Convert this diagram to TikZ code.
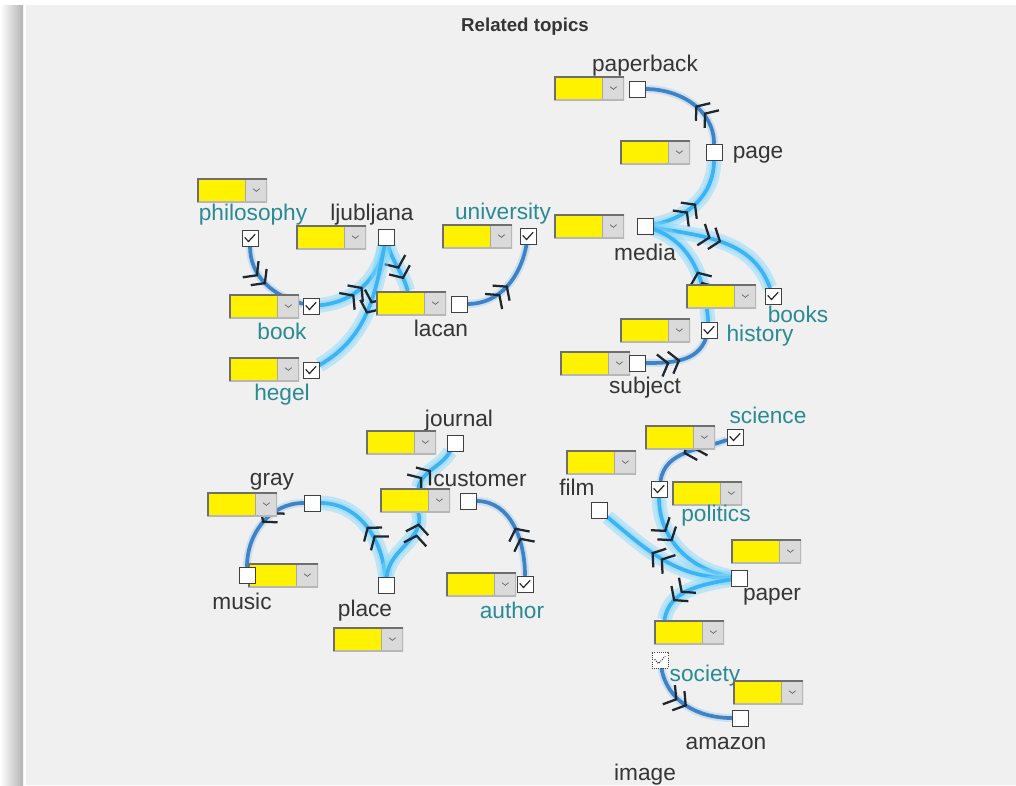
\documentclass[tikz,border=0pt]{standalone}
\usepackage{fontspec}
\setmainfont{Liberation Sans}
\usetikzlibrary{arrows.meta,decorations.markings}
\definecolor{panelgray}{HTML}{F0F0F0}
\definecolor{linkblue}{HTML}{3F83C6}
\definecolor{linkglow}{HTML}{8CC4F0}
\definecolor{hubblue}{HTML}{3AB4F2}
\definecolor{hubglow}{HTML}{7FD9FF}
\definecolor{tealtext}{HTML}{2A8A93}
\definecolor{darktext}{HTML}{353535}
\definecolor{ddborder}{HTML}{6E6E6E}
\definecolor{ddarrow}{HTML}{DADADA}
\definecolor{ink}{HTML}{1E2630}
\pgfdeclarelayer{panel}
\pgfdeclarelayer{wires}
\pgfsetlayers{panel,wires,main}
\newcommand{\relate}[4][link]{\draw[#1] (#2) to[#4] (#3);}
\tikzset{
	topic/.style={font=\fontsize{17}{19}\selectfont, text=darktext, inner sep=0pt, yshift=-2.2pt},
	picked/.style={topic, text=tealtext},
	dropdown/.style={rectangle, minimum width=52.5pt, minimum height=18pt, inner sep=0pt, fill=yellow,
		path picture={
			\fill[ddarrow] ([xshift=-16pt]path picture bounding box.north east) rectangle (path picture bounding box.south east);
			\draw[ddborder!60] ([xshift=-16pt]path picture bounding box.north east) -- ([xshift=-16pt]path picture bounding box.south east);
			\draw[ddborder, line width=.6pt] ([xshift=-10.5pt,yshift=-8pt]path picture bounding box.north east) -- ++(2.5pt,-2pt) -- ++(2.5pt,2pt);
			\draw[ddborder!50, line width=.8pt] (path picture bounding box.south west) -- (path picture bounding box.south east) -- (path picture bounding box.north east);
			\draw[ddborder, line width=2.4pt] (path picture bounding box.south west) -- (path picture bounding box.north west) -- (path picture bounding box.north east);
		}},
	checkbox/.style={rectangle, draw=black!75, fill=white, minimum size=12pt, inner sep=0pt, line width=.6pt},
	checked/.style={checkbox, path picture={\draw[black!85, line width=.9pt] ([shift={(2pt,-5.6pt)}]path picture bounding box.north west) -- ++(2.9pt,-3pt) -- ++(5pt,5.4pt);}},
	link/.style={draw=linkblue, line width=2.8pt, line cap=round,
		preaction={draw=linkglow, line width=6pt, opacity=.35},
		postaction={decorate},
		decoration={markings, mark=at position #1 with {\arrow{Straight Barb[length=6.5pt,width=17pt,line width=1.7pt,color=ink] Straight Barb[length=6.5pt,width=17pt,line width=1.7pt,color=ink]}}}},
	link/.default=0.5,
	hublink/.style={link=#1, draw=hubblue, preaction={draw=hubglow, line width=11pt, opacity=.45}},
	hublink/.default=0.5,
}

\begin{document}
\begin{tikzpicture}[x=0.75pt,y=0.75pt]
	\useasboundingbox (0,0) rectangle (1016,-785);
	\begin{pgfonlayer}{panel}
		\fill[white] (0,0) rectangle (1016,-785);
		\shade[left color=white, right color=gray!60] (0,-5) rectangle (23,-785);
		\fill[panelgray] (26,-5) rectangle (1016,-785);
	\end{pgfonlayer}

	\node[font=\bfseries\fontsize{14}{16}\selectfont, text=darktext] (title) at (525,-27) {Related topics};

	% philosophy group
	\node[dropdown] (philosophy-dd) at (232,-190) {};
	\node[picked] (philosophy) at (253,-212) {philosophy};
	\node[checked] (philosophy-cb) at (250,-238) {};
	\node[topic] (ljubljana) at (372,-212) {ljubljana};
	\node[dropdown] (ljubljana-dd) at (331,-237) {};
	\node[checkbox] (ljubljana-cb) at (386,-237) {};
	\node[picked] (university) at (503,-211) {university};
	\node[dropdown] (university-dd) at (477,-236) {};
	\node[checked] (university-cb) at (528,-236) {};
	\node[dropdown] (book-dd) at (264,-306) {};
	\node[checked] (book-cb) at (311,-306) {};
	\node[picked] (book) at (282,-328) {book};
	\node[dropdown] (lacan-dd) at (411,-303) {};
	\node[checkbox] (lacan-cb) at (459,-304) {};
	\node[topic] (lacan) at (441,-325) {lacan};
	\node[dropdown] (hegel-dd) at (264,-369) {};
	\node[checked] (hegel-cb) at (311,-370) {};
	\node[picked] (hegel) at (282,-392) {hegel};

	% media group
	\node[topic] (paperback) at (645,-63) {paperback};
	\node[dropdown] (paperback-dd) at (589,-88) {};
	\node[checkbox] (paperback-cb) at (637,-89) {};
	\node[dropdown] (page-dd) at (655,-152) {};
	\node[checkbox] (page-cb) at (714,-152) {};
	\node[topic] (page) at (758,-152) {page};
	\node[dropdown] (media-dd) at (589,-226) {};
	\node[checkbox] (media-cb) at (645,-226) {};
	\node[topic] (media) at (645,-249) {media};
	\node[dropdown] (books-dd) at (721,-296) {};
	\node[checked] (books-cb) at (773,-296) {};
	\node[picked] (books) at (798,-311) {books};
	\node[dropdown] (history-dd) at (655,-330) {};
	\node[checked] (history-cb) at (709,-330) {};
	\node[picked] (history) at (760,-333) {history};
	\node[dropdown] (subject-dd) at (595,-363) {};
	\node[checkbox] (subject-cb) at (637,-363) {};
	\node[topic] (subject) at (645,-385) {subject};

	% customer group
	\node[topic] (journal) at (459,-418) {journal};
	\node[dropdown] (journal-dd) at (401,-442) {};
	\node[checkbox] (journal-cb) at (455,-443) {};
	\node[topic] (customer) at (480,-476) {customer};
	\node[dropdown] (customer-dd) at (415,-500) {};
	\node[checkbox] (customer-cb) at (468,-501) {};
	\node[topic] (gray) at (272,-479) {gray};
	\node[dropdown] (gray-dd) at (242,-504) {};
	\node[checkbox] (gray-cb) at (312,-503) {};
	\node[dropdown] (music-dd) at (283,-575) {};
	\node[checkbox] (music-cb) at (247,-575) {};
	\node[topic] (music) at (242,-598) {music};
	\node[checkbox] (place-cb) at (386,-585) {};
	\node[topic] (place) at (365,-608) {place};
	\node[dropdown] (place-dd) at (368,-639) {};
	\node[dropdown] (author-dd) at (481,-584) {};
	\node[checked] (author-cb) at (525,-584) {};
	\node[picked] (author) at (512,-607) {author};

	% paper group
	\node[picked] (science) at (768,-412) {science};
	\node[dropdown] (science-dd) at (680,-437) {};
	\node[checked] (science-cb) at (735,-437) {};
	\node[dropdown] (film-dd) at (601,-462) {};
	\node[topic] (film) at (577,-484) {film};
	\node[checkbox] (film-cb) at (599,-510) {};
	\node[checked] (politics-cb) at (659,-489) {};
	\node[dropdown] (politics-dd) at (707,-493) {};
	\node[picked] (politics) at (716,-513) {politics};
	\node[dropdown] (paper-dd) at (766,-551) {};
	\node[checkbox] (paper-cb) at (739,-578) {};
	\node[topic] (paper) at (772,-594) {paper};
	\node[dropdown] (society-dd) at (689,-632) {};
	\node[checked, densely dotted] (society-cb) at (660,-660) {};
	\node[picked] (society) at (705,-673) {society};
	\node[dropdown] (amazon-dd) at (768,-692) {};
	\node[checkbox] (amazon-cb) at (740,-718) {};
	\node[topic] (amazon) at (726,-741) {amazon};
	\node[topic] (image) at (645,-772) {image};
	\coordinate (society-in) at ([xshift=8pt]society-dd.north west);

	\begin{pgfonlayer}{wires}
		\relate{philosophy-cb}{book-cb}{out=-90,in=165}
		\relate[hublink]{book-cb}{ljubljana-cb}{out=5,in=-100}
		\relate[hublink=0.75]{ljubljana-cb}{lacan-dd}{out=-75,in=105}
		\relate[hublink]{ljubljana-cb}{hegel-cb}{out=-100,in=30}
		\relate{lacan-cb}{university-cb}{out=0,in=-100}

		\relate[hublink]{media-cb}{page-cb}{out=10,in=-90}
		\relate[link=0.45]{page-cb}{paperback-cb}{out=90,in=0}
		\relate[hublink]{media-cb}{books-cb}{out=-10,in=110}
		\relate[hublink=0.45]{history-cb}{media-cb}{out=95,in=-20}
		\relate{subject-cb}{history-cb}{out=0,in=-110}

		\relate[hublink=0.45]{customer-dd}{journal-cb}{out=75,in=-120}
		\relate[hublink]{place-cb}{gray-cb}{out=95,in=0}
		\relate[hublink=0.85]{place-cb}{customer-dd}{out=85,in=-75}
		\relate{gray-cb}{music-cb}{out=180,in=90}
		\relate{author-cb}{customer-cb}{out=90,in=0}

		\relate[link=0.55]{science-cb}{politics-cb}{out=-160,in=80}
		\relate[hublink=0.4]{politics-cb}{paper-cb}{out=-90,in=170}
		\relate[hublink=0.6]{paper-cb}{film-cb}{out=180,in=-40}
		\relate[hublink=0.75]{paper-cb}{society-in}{out=190,in=80}
		\relate{society-cb}{amazon-cb}{out=-80,in=180}
	\end{pgfonlayer}
\end{tikzpicture}
\end{document}
